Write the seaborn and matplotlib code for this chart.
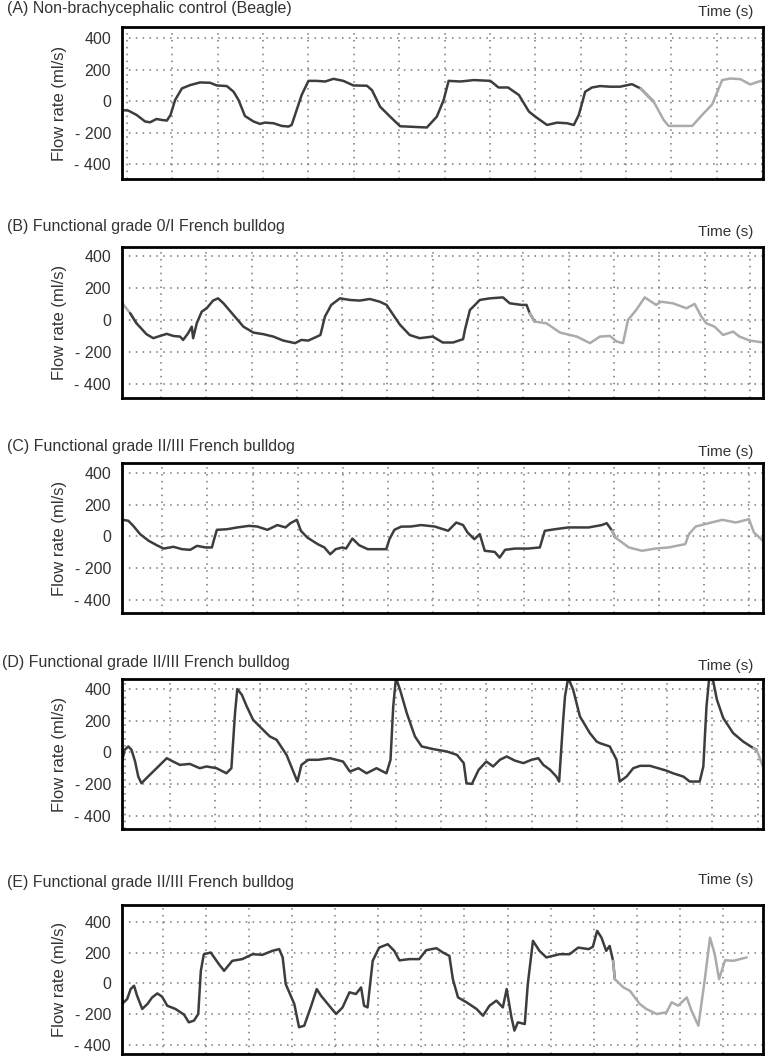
import matplotlib
matplotlib.use("Agg")
import matplotlib.pyplot as plt
import seaborn as sns
import pandas as pd
from matplotlib.ticker import MultipleLocator

# panel titles
titles = ["(A) Non-brachycephalic control (Beagle)",
          "(B) Functional grade 0/I French bulldog",
          "(C) Functional grade II/III French bulldog",
          "(D) Functional grade II/III French bulldog",
          "(E) Functional grade II/III French bulldog"]

y_ticks = [400, 200, 0, -200, -400]
y_ticklabels = ["400", "200", "0", "- 200", "- 400"]

# traces (time in grid units, flow in ml/s)
a_time = [-0.12, 0.03, 0.21, 0.40, 0.51, 0.65, 0.76, 0.88, 0.96, 1.06, 1.21, 1.39, 1.61, 1.83,
          1.98, 2.2, 2.35, 2.46, 2.60, 2.79, 2.93, 3.04, 3.23, 3.41, 3.56, 3.63, 3.74, 3.85,
          4.0, 4.18, 4.37, 4.55, 4.77, 4.99, 5.29, 5.40, 5.58, 5.80, 6.02, 6.61, 6.83, 6.98,
          7.09, 7.35, 7.65, 8.01, 8.19, 8.40, 8.64, 8.86, 9.0, 9.26, 9.48, 9.70, 9.85, 9.96,
          10.1, 10.25, 10.43, 10.65, 10.87, 11.13, 11.32, 11.61, 11.83, 11.94, 12.2, 12.46,
          12.68, 12.9, 13.12, 13.3, 13.52, 13.74, 14.02]
a_flow = [-57, -61, -88, -130, -135, -114, -120, -124, -88, 6, 80, 101, 118, 116,
          99, 95, 59, 6, -95, -130, -145, -137, -141, -158, -162, -152, -57, 38,
          128, 128, 124, 141, 128, 99, 97, 69, -36, -99, -160, -168, -99, 6,
          128, 124, 133, 128, 86, 86, 38, -67, -99, -152, -137, -141, -152, -88,
          59, 86, 95, 91, 91, 107, 80, -4, -120, -158, -158, -158,
          -88, -21, 133, 143, 139, 105, 133]
a_gray = [(11.61, 15)]

b_time = [-0.85, -0.68, -0.54, -0.32, -0.17, -0.02, 0.13, 0.27, 0.42, 0.49, 0.6, 0.68, 0.71,
          0.79, 0.90, 1.01, 1.15, 1.26, 1.38, 1.6, 1.82, 2.04, 2.26, 2.48, 2.7, 2.96, 3.1,
          3.25, 3.40, 3.52, 3.62, 3.76, 3.95, 4.17, 4.39, 4.61, 4.83, 4.98, 5.13, 5.27, 5.49,
          5.71, 6.0, 6.22, 6.45, 6.67, 6.71, 6.82, 7.04, 7.26, 7.55, 7.7, 7.96, 8.07, 8.14,
          8.25, 8.51, 8.81, 9.18, 9.47, 9.69, 9.91, 10.06, 10.2, 10.31, 10.49, 10.68, 10.93,
          11.04, 11.3, 11.6, 11.78, 11.93, 12.04, 12.22, 12.41, 12.63, 12.77, 13.0, 13.3]
b_flow = [104, 42, -21, -89, -114, -100, -87, -100, -104, -125, -83, -42, -114,
          -21, 52, 73, 121, 135, 104, 31, -42, -79, -89, -104, -129, -145, -125,
          -129, -110, -94, 21, 94, 135, 125, 121, 131, 114, 94, 31, -28, -94,
          -114, -104, -141, -141, -120, -62, 62, 125, 135, 141, 104, 94, 94, 42,
          -10, -21, -79, -104, -145, -104, -100, -135, -145, 0, 62, 141, 94,
          114, 104, 73, 100, 21, -21, -42, -94, -73, -104, -129, -141]
b_gray = [(-1, -0.6), (8.25, 15)]

c_time = [-0.87, -0.75, -0.64, -0.49, -0.3, -0.12, 0.03, 0.25, 0.44, 0.62, 0.77, 0.96, 1.10,
          1.14, 1.21, 1.44, 1.66, 1.92, 2.1, 2.33, 2.55, 2.73, 2.84, 2.98, 3.07, 3.21, 3.44,
          3.59, 3.72, 3.84, 3.99, 4.07, 4.21, 4.36, 4.55, 4.73, 4.96, 5.03, 5.14, 5.29, 5.51,
          5.73, 6.03, 6.33, 6.51, 6.66, 6.76, 6.91, 7.03, 7.14, 7.36, 7.47, 7.59, 7.81, 8.1,
          8.36, 8.47, 8.7, 8.99, 9.44, 9.73, 9.84, 9.96, 10.03, 10.33, 10.62, 10.92, 11.21,
          11.58, 11.66, 11.81, 12.1, 12.4, 12.7, 12.99, 13.1, 13.3]
c_flow = [105, 99, 67, 15, -27, -55, -76, -65, -80, -84, -59, -69, -69,
          -27, 42, 46, 57, 67, 63, 42, 72, 57, 84, 105, 36, -6, -48,
          -69, -112, -80, -69, -76, -13, -55, -80, -80, -80, -17, 42, 62, 63,
          72, 63, 36, 88, 72, 25, -17, 15, -90, -97, -133, -84, -76, -76,
          -69, 36, 46, 57, 57, 72, 84, 36, -6, -69, -90, -76, -69,
          -48, 15, 63, 84, 105, 88, 109, 25, -27]
c_gray = [(9.99, 15)]

d_time = [-1.05, -1.0, -0.92, -0.85, -0.77, -0.70, -0.63, -0.52, -0.37, -0.22, -0.07, 0.07,
          0.22, 0.44, 0.66, 0.81, 1.03, 1.25, 1.36, 1.44, 1.49, 1.59, 1.70, 1.84, 2.06, 2.21,
          2.36, 2.58, 2.73, 2.82, 2.91, 3.06, 3.28, 3.54, 3.83, 3.98, 4.17, 4.35, 4.57, 4.79,
          4.88, 4.94, 5.0, 5.09, 5.24, 5.42, 5.57, 5.83, 6.13, 6.35, 6.5, 6.56, 6.68, 6.83,
          7.0, 7.15, 7.3, 7.45, 7.63, 7.82, 8.0, 8.15, 8.26, 8.41, 8.55, 8.61, 8.7, 8.74,
          8.81, 8.92, 9.07, 9.29, 9.44, 9.51, 9.73, 9.88, 9.95, 10.1, 10.25, 10.4, 10.62,
          10.98, 11.13, 11.36, 11.5, 11.72, 11.8, 11.87, 11.93, 12.02, 12.1, 12.24, 12.46,
          12.68, 12.91, 12.98, 13.12]
d_flow = [-46, 17, 38, 17, -57, -152, -194, -162, -120, -78, -36, -57,
          -78, -72, -99, -88, -99, -131, -99, 248, 400, 364, 290, 206, 143, 101,
          80, -15, -120, -183, -78, -46, -46, -36, -57, -120, -99, -131, -99, -131,
          -46, 290, 470, 396, 248, 101, 38, 21, 6, -15, -67, -194, -198, -109,
          -57, -88, -46, -25, -51, -67, -46, -36, -78, -109, -152, -183, 206, 354,
          470, 396, 227, 122, 69, 59, 38, -46, -183, -152, -99, -84, -84,
          -114, -131, -152, -183, -183, -88, 290, 470, 448, 333, 217, 122,
          69, 27, 17, -90]
d_gray = [(12.98, 15)]

e_time = [-0.95, -0.83, -0.75, -0.67, -0.6, -0.48, -0.36, -0.25, -0.13, -0.02, 0.10, 0.29,
          0.49, 0.6, 0.72, 0.82, 0.88, 0.95, 1.11, 1.30, 1.42, 1.61, 1.84, 2.08, 2.31, 2.54,
          2.70, 2.78, 2.85, 3.05, 3.16, 3.28, 3.43, 3.57, 3.67, 3.86, 4.02, 4.17, 4.33, 4.48,
          4.6, 4.67, 4.75, 4.87, 5.02, 5.22, 5.37, 5.49, 5.72, 5.95, 6.11, 6.35, 6.5, 6.65,
          6.73, 6.85, 7.05, 7.28, 7.43, 7.58, 7.74, 7.89, 7.98, 8.09, 8.16, 8.24, 8.40, 8.47,
          8.59, 8.74, 8.9, 9.21, 9.44, 9.64, 9.88, 9.98, 10.08, 10.18, 10.29, 10.37, 10.45,
          10.49, 10.69, 10.84, 11.07, 11.22, 11.46, 11.69, 11.81, 11.96, 12.16, 12.27, 12.43,
          12.58, 12.7, 12.81, 12.91, 13.05, 13.24, 13.55]
e_flow = [-134, -102, -37, -15, -80, -166, -134, -91, -65, -86, -145, -166,
          -203, -253, -242, -199, 82, 190, 201, 125, 82, 147, 158, 190, 186, 212,
          223, 169, -4, -134, -285, -275, -156, -37, -80, -145, -199, -156, -58, -69,
          -26, -145, -156, 147, 233, 255, 212, 150, 158, 158, 216, 229, 201, 179,
          28, -91, -123, -166, -210, -145, -112, -156, -37, -220, -307, -253, -264, -4,
          277, 212, 169, 190, 190, 233, 223, 238, 342, 298, 212, 244, 147,
          28, -26, -48, -134, -166, -199, -188, -123, -145, -91, -177, -275,
          28, 298, 190, 28, 151, 147, 169]
e_gray = [(10.49, 15)]

traces = [(a_time, a_flow, a_gray), (b_time, b_flow, b_gray), (c_time, c_flow, c_gray),
          (d_time, d_flow, d_gray), (e_time, e_flow, e_gray)]

# layout (pixels)
fig_w, fig_h = 766, 1056
box_px = [(27, 179), (247, 398), (463, 613), (679, 829), (905, 1054)]
xlims = [(-0.11, 14.02), (-0.86, 13.29), (-0.89, 13.3), (-1.06, 13.12), (-0.95, 13.93)]
ylims = [(-495, 470), (-488, 456), (-482, 463), (-482, 463), (-459, 510)]
title_px = [(7, 9), (7, 227), (7, 447), (2, 663), (7, 882)]
time_y_px = [12, 232, 452, 666, 880]

sns.set_theme(style="white")
plt.rcParams["font.family"] = ["Liberation Sans", "DejaVu Sans"]

DARK = "#3d3d3d"
LIGHT = "#ababab"

fig = plt.figure(figsize=(fig_w / 100, fig_h / 100), dpi=100)

for i, (t, f, gray) in enumerate(traces):
    top, bot = box_px[i]
    ax = fig.add_axes([122 / fig_w, 1 - bot / fig_h, (763 - 122) / fig_w, (bot - top) / fig_h])
    df = pd.DataFrame({"time": t, "flow": f})
    df["grey"] = [any(a <= x <= b for a, b in gray) for x in t]

    # split into runs of the same colour, sharing the joining point
    runs = []
    start = 0
    for k in range(1, len(df)):
        if df["grey"].iloc[k] != df["grey"].iloc[k - 1]:
            runs.append((start, k, df["grey"].iloc[k - 1]))
            start = k - 1
    runs.append((start, len(df) - 1, df["grey"].iloc[-1]))
    for s, e, g in runs:
        seg = df.iloc[s:e + 1]
        sns.lineplot(data=seg, x="time", y="flow", sort=False, estimator=None,
                     color=LIGHT if g else DARK, lw=1.8, ax=ax)

    ax.set_xlim(*xlims[i])
    ax.set_ylim(*ylims[i])
    ax.xaxis.set_major_locator(MultipleLocator(1))
    ax.set_xticklabels([])
    ax.set_yticks(y_ticks)
    ax.set_yticklabels(y_ticklabels, fontsize=11.5, color="#333333")
    ax.tick_params(length=0, pad=8)
    ax.grid(True, color="#777777", linestyle=(0, (1, 3.5)), lw=1.1)
    ax.set_xlabel("")
    ax.set_ylabel("Flow rate (ml/s)", fontsize=12, color="#333333", labelpad=5)
    for sp in ax.spines.values():
        sp.set_visible(True)
        sp.set_color("black")
        sp.set_linewidth(2)

    tx, ty = title_px[i]
    fig.text(tx / fig_w, 1 - ty / fig_h, titles[i], fontsize=11.5, color="#333333",
             ha="left", va="center")
    fig.text(753 / fig_w, 1 - time_y_px[i] / fig_h, "Time (s)", fontsize=11, color="#333333",
             ha="right", va="center")

fig.savefig("out.png", dpi=100)
